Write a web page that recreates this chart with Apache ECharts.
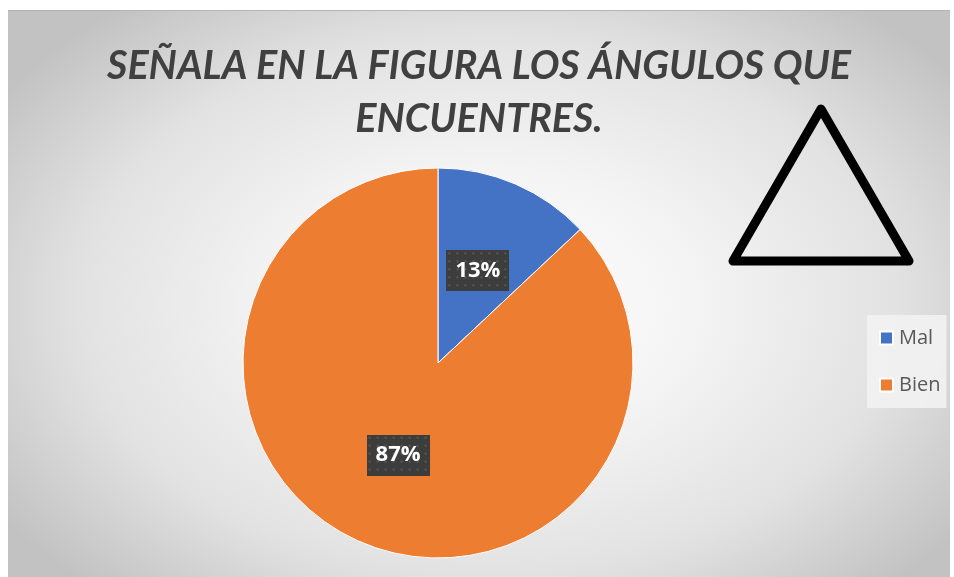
<!DOCTYPE html>
<html>
<head>
<meta charset="utf-8">
<script src="https://cdn.jsdelivr.net/npm/echarts@6/dist/echarts.min.js"></script>
<style>
  html, body { margin: 0; padding: 0; background: #ffffff; }
  #wrap {
    position: absolute; left: 8px; top: 10px; width: 942px; height: 567px;
    border-top: 1px solid #b4b4b4;
    box-sizing: border-box;
    background: radial-gradient(ellipse 62% 68% at 51% 52%, #ffffff 0%, #f4f4f4 35%, #e2e2e2 70%, #c2c2c2 100%);
  }
  #chart { width: 100%; height: 100%; }
</style>
</head>
<body>
<div id="wrap"><div id="chart"></div></div>
<script>
// Survey results for the triangle-angles question
const categories = ['Mal', 'Bien'];
const values = [13, 87];
const sliceColors = ['#4472C4', '#ED7D31'];
const titleLines = ['SEÑALA EN LA FIGURA LOS ÁNGULOS QUE', 'ENCUENTRES.'];

// Dotted dark fill used behind the percentage labels
function dottedTile(w, h) {
  const c = document.createElement('canvas');
  c.width = w; c.height = h;
  const g = c.getContext('2d');
  g.fillStyle = '#3d3d3d';
  g.fillRect(0, 0, w, h);
  g.fillStyle = '#585858';
  for (let y = 2; y < h; y += 8) {
    for (let x = 2; x < w; x += 8) {
      g.fillRect(x, y, 2, 2);
    }
  }
  return c;
}
const labelW = 63, labelH = 41;
const tile = dottedTile(labelW, labelH);

const chart = echarts.init(document.getElementById('chart'), null, { renderer: 'canvas' });
chart.setOption({
  backgroundColor: 'transparent',
  animation: false,
  title: {
    text: titleLines.join('\n'),
    left: 'center',
    top: 24,
    textStyle: {
      fontFamily: 'Lato',
      fontStyle: 'italic',
      fontWeight: 'bold',
      fontSize: 39.5,
      lineHeight: 53,
      color: '#404040'
    }
  },
  legend: {
    orient: 'vertical',
    left: 859,
    top: 304,
    padding: [13, 6, 13, 12],
    backgroundColor: 'rgba(242,242,242,0.9)',
    itemWidth: 13,
    itemHeight: 13,
    itemGap: 27,
    icon: 'rect',
    data: categories,
    textStyle: {
      fontFamily: 'Open Sans',
      fontSize: 20,
      color: '#595959',
      padding: [0, 0, 0, 1]
    }
  },
  graphic: [{
    type: 'polygon',
    shape: { points: [[813, 98], [725, 250], [901, 250]] },
    style: { fill: 'none', stroke: '#000000', lineWidth: 9, lineJoin: 'round' },
    z: 10
  }],
  series: [{
    type: 'pie',
    center: [430, 352],
    radius: [0, 195],
    startAngle: 90,
    clockwise: true,
    data: categories.map((n, i) => ({ name: n, value: values[i], itemStyle: { color: sliceColors[i] } })),
    itemStyle: { borderColor: '#ffffff', borderWidth: 1 },
    emphasis: { disabled: true },
    label: {
      show: true,
      position: 'inside',
      formatter: p => p.value + '%',
      fontFamily: 'Open Sans',
      fontWeight: 'bold',
      fontSize: 22,
      color: '#ffffff',
      width: labelW,
      height: labelH,
      lineHeight: labelH,
      align: 'center',
      verticalAlign: 'middle',
      backgroundColor: { image: tile },
      shadowColor: 'rgba(0,0,0,0.6)',
      shadowBlur: 8,
      shadowOffsetX: 3,
      shadowOffsetY: 3
    },
    labelLine: { show: false }
  }]
});
</script>
</body>
</html>
